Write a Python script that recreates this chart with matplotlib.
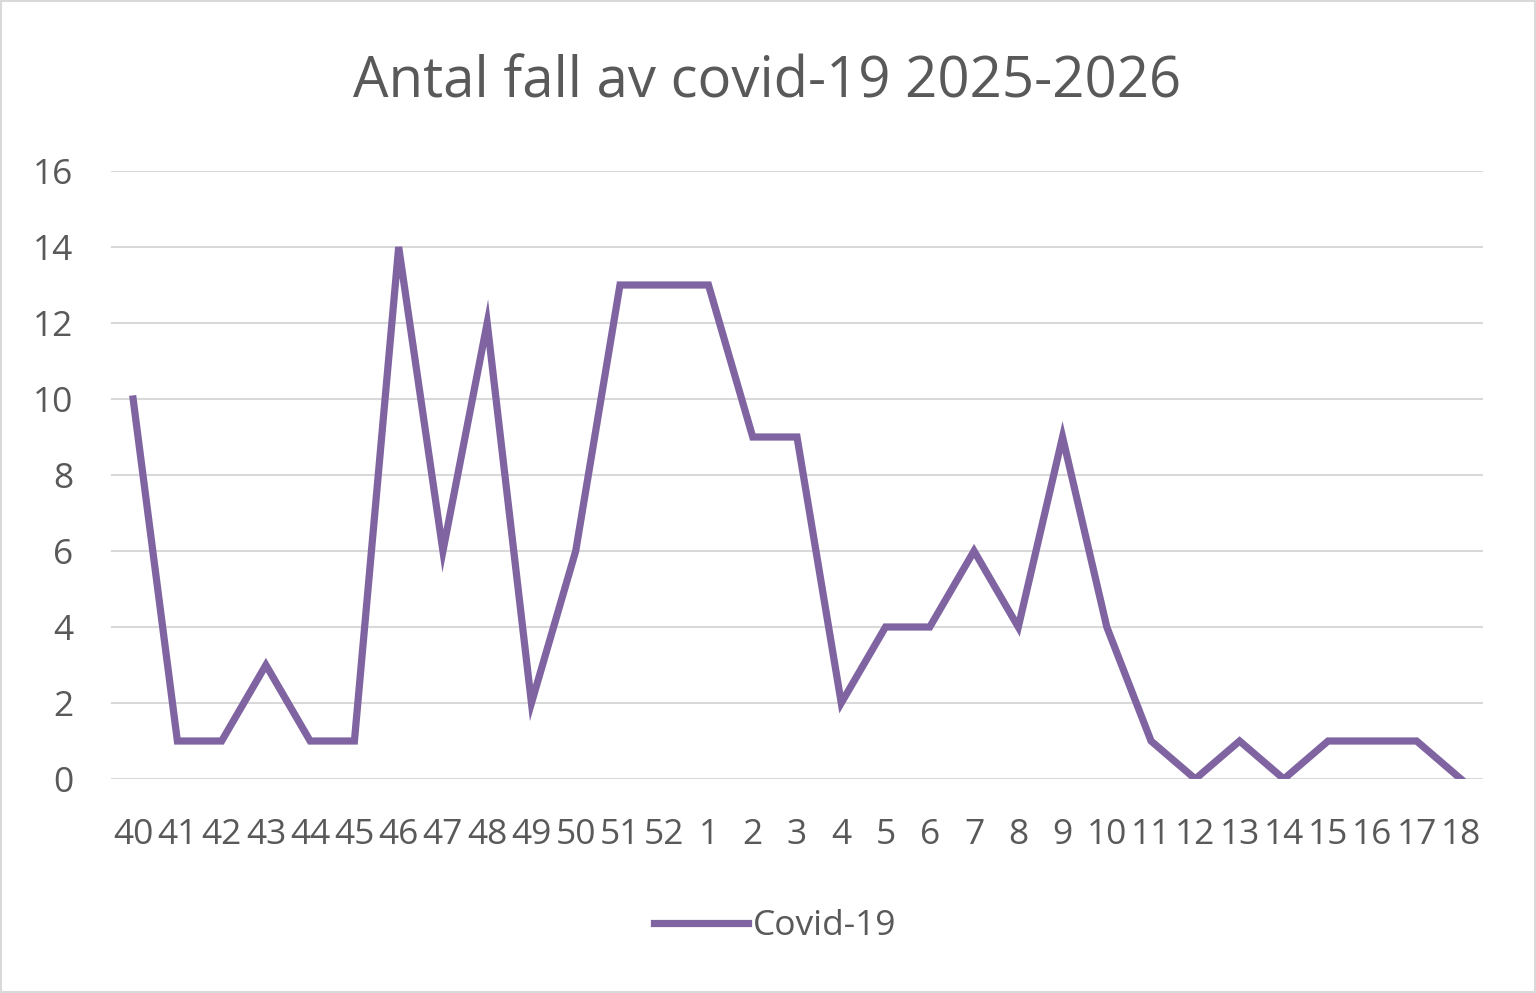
import matplotlib
matplotlib.use("Agg")
import matplotlib.pyplot as plt
from matplotlib.patches import Rectangle
from matplotlib.lines import Line2D

weeks = ["40","41","42","43","44","45","46","47","48","49","50","51","52",
         "1","2","3","4","5","6","7","8","9","10","11","12","13","14","15","16","17","18"]
cases = [10,1,1,3,1,1,14,6,12,2,6,13,13,13,9,9,2,4,4,6,4,9,4,1,0,1,0,1,1,1,0]
yticks = [0,2,4,6,8,10,12,14,16]
title = "Antal fall av covid-19 2025-2026"
series_name = "Covid-19"

plt.rcParams['font.family'] = ['Open Sans', 'DejaVu Sans']
W, H = 1536, 993
fig = plt.figure(figsize=(W/100, H/100), dpi=100)
ax = fig.add_axes([111/W, 1-779/H, (1483-111)/W, (779-171)/H])

color = "#8064A2"
grey = "#595959"
fs = 25.5
x = list(range(len(weeks)))
ax.plot(x, cases, color=color, lw=5.2, solid_joinstyle='miter', zorder=3)
ax.set_xlim(-0.5, len(weeks)-0.5)
ax.set_ylim(0, 16)
ax.set_yticks(yticks)
ax.set_xticks(x)
ax.set_xticklabels(weeks)
ax.tick_params(axis='both', length=0, labelsize=fs, labelcolor=grey)
ax.tick_params(axis='x', pad=28)
ax.tick_params(axis='y', pad=27)
ax.grid(axis='y', color="#d9d9d9", lw=1.5, zorder=0)
for s in ax.spines.values():
    s.set_visible(False)
ax.set_axisbelow(True)

fig.text(767/W, 1-83/H, title, ha='center', va='center', fontsize=40.5, color=grey)

handle = Line2D([0], [0], color=color, lw=5.2)
fig.legend([handle], [series_name], loc='center', bbox_to_anchor=(775/W, 1-926/H),
           frameon=False, fontsize=fs, labelcolor=grey, handlelength=2.65, handletextpad=0.15)

fig.add_artist(Rectangle((1/W, 1/H), 1-2/W, 1-2/H, transform=fig.transFigure,
                         fill=False, edgecolor="#d9d9d9", lw=1.5))
fig.savefig("out.png", dpi=100)
